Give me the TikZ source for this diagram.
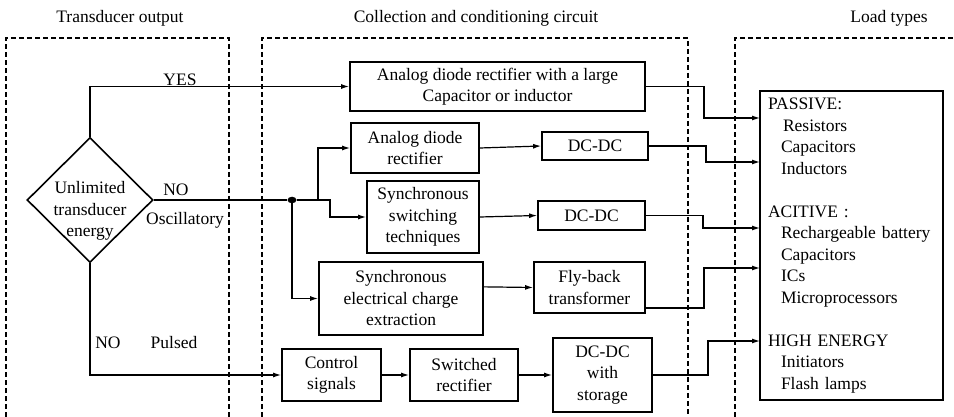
\documentclass[tikz,border=0pt]{standalone}
\usepackage{fontspec}
\setmainfont{Liberation Serif}
\usetikzlibrary{shapes.geometric,arrows.meta,positioning}
\tikzstyle{blk}=[draw,line width=1.8pt,align=center,inner sep=0pt]
\tikzstyle{dec}=[draw,diamond,line width=1.6pt,inner sep=0pt,minimum width=126,minimum height=125]
\tikzstyle{arr}=[-{Latex[length=8pt,width=5pt]},line width=1.2pt]
\tikzstyle{zone}=[line width=1.5pt,dash pattern=on 5pt off 3pt]
\tikzstyle{dot}=[ellipse,fill,inner sep=0pt,minimum width=9pt,minimum height=6.5pt]
\tikzstyle{lbl}=[inner sep=0pt]

\begin{document}
\begin{tikzpicture}[x=1pt, y=-1pt, on grid, font=\fontsize{17.5}{21.5}\selectfont]
  \useasboundingbox (0,0) rectangle (954,417);

  % the three zones
  \draw[zone] (6,417) -- (6,38) -- (229,38) -- (229,417);
  \draw[zone] (262,417) -- (262,38) -- (688,38) -- (688,417);
  \draw[zone] (735,417) -- (735,38) -- (954,38);

  \node[lbl] (ttl1) at (120,18) {Transducer output};
  \node[lbl] (ttl2) at (476,18) {Collection and conditioning circuit};
  \node[lbl] (ttl3) at (889,18) {Load types};

  % decision
  \node[dec, label={[align=center,yshift=-11pt]center:{Unlimited\\transducer\\energy}}] (unl) at (90,200) {};
  \node[dot] (jn) at (292,200) {};

  % conditioning blocks
  \node[blk, minimum width=295, minimum height=49] (big) at (497.5,86.5) {Analog diode rectifier with a large\\Capacitor or inductor};
  \node[blk, minimum width=128, minimum height=50] (adr) at (415,148) {Analog diode\\rectifier};
  \node[blk, minimum width=106, minimum height=28] (dc1) at (595,146) {DC-DC};
  \node[blk, minimum width=112, minimum height=72] (ssw) at (423,217) {Synchronous\\switching\\techniques};
  \node[blk, minimum width=107, minimum height=29] (dc2) at (591.5,215.5) {DC-DC};
  \node[blk, minimum width=164, minimum height=73] (sece) at (401,298.5) {Synchronous\\electrical charge\\extraction};
  \node[blk, minimum width=111, minimum height=51] (fly) at (589.5,287.5) {Fly-back\\transformer};
  \node[blk, minimum width=99, minimum height=52] (ctrl) at (331.5,375) {Control\\signals};
  \node[blk, minimum width=108, minimum height=52, right=132.5pt of ctrl] (swr) {Switched\\rectifier};
  \node[blk, minimum width=99, minimum height=74, right=138.5pt of swr] (dcs) {DC-DC\\with\\storage};

  % loads
  \node[blk, minimum width=183, minimum height=309, align=left, text width=167pt, inner xsep=8pt] (load) at (851.5,245.5) {PASSIVE:\\
    \hspace*{15pt}Resistors\\
    \hspace*{13pt}Capacitors\\
    \hspace*{13pt}Inductors\\[21.5pt]
    ACITIVE :\\
    \hspace*{13pt}Rechargeable battery\\
    \hspace*{13pt}Capacitors\\
    \hspace*{13pt}ICs\\
    \hspace*{13pt}Microprocessors\\[21.5pt]
    HIGH ENERGY\\
    \hspace*{13pt}Initiators\\
    \hspace*{13pt}Flash lamps};
  \coordinate (in1) at (760,118);
  \coordinate (in2) at (760,162);
  \coordinate (in3) at (760,228);
  \coordinate (in4) at (760,268);
  \coordinate (in5) at (760,341);

  \node[lbl] (yes) at (180,80) {YES};
  \node[lbl] (no1) at (176,190) {NO};
  \node[lbl] (osc) at (185,220) {Oscillatory};
  \node[lbl] (no2) at (108,343) {NO};
  \node[lbl] (pul) at (174,343) {Pulsed};

  \draw[arr] (unl.north) |- (big.west);
  \draw[line width=1.2pt] (unl.east) -- (jn);
  \draw[arr] (jn) -- ++(26,0) |- (adr.west);
  \draw[arr] (jn) -- ++(38,0) |- (ssw.west);
  \draw[arr] (jn) |- (sece.west);
  \draw[arr] (unl.south) |- (ctrl.west);

  \draw[arr] (adr.east) -- (dc1.west);
  \draw[arr] (ssw.east) -- (dc2.west);
  \draw[arr] (sece.8) -- (fly.west);
  \draw[arr] (ctrl) -- (swr);
  \draw[arr] (swr) -- (dcs);

  \draw[arr] (big.east) -- ++(58,0) |- (in1);
  \draw[arr] (dc1.east) -- ++(57,0) |- (in2);
  \draw[arr] (dc2.east) -- ++(57,0) |- (in3);
  \draw[arr] (fly.-20) -- ++(58,0) |- (in4);
  \draw[arr] (dcs.east) -- ++(55,0) |- (in5);
\end{tikzpicture}
\end{document}
